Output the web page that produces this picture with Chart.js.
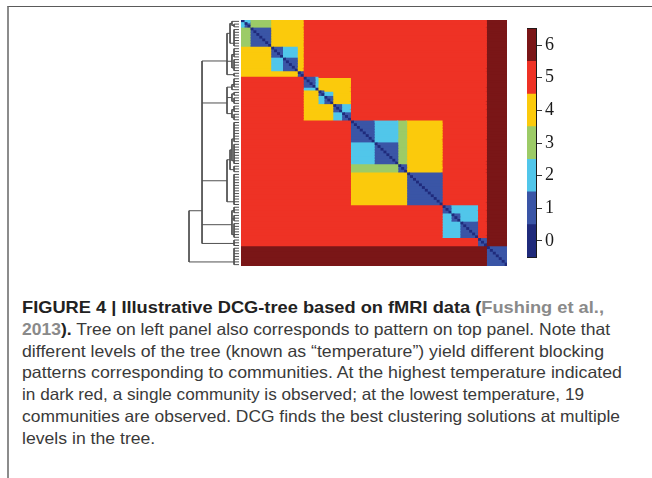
<!DOCTYPE html>
<html>
<head>
<meta charset="utf-8">
<script src="https://cdn.jsdelivr.net/npm/chart.js@4.4.0/dist/chart.umd.min.js"></script>
<style>
html,body{margin:0;padding:0;background:#fff;width:652px;height:478px;overflow:hidden;}
#frame{position:absolute;left:7px;top:6px;width:650px;height:480px;border-left:2px solid #8c8c8c;border-top:1px solid #5a5a5a;box-sizing:border-box;}
canvas{position:absolute;}
#tree{left:183px;top:20px;}
#matrix{left:241px;top:20px;}
#cbar{left:526px;top:15px;}
#caption{position:absolute;left:22px;top:297px;font-family:"Liberation Sans",Arial,sans-serif;font-size:16.5px;line-height:21.8px;color:#3a3a3a;white-space:nowrap;}
#caption .ln{display:block;transform-origin:0 0;width:max-content;}
#caption b{color:#222;}
#caption .ref{color:#8a8a8a;}
</style>
</head>
<body>
<div id="frame"></div>
<canvas id="tree" width="58" height="246"></canvas>
<canvas id="matrix" width="266" height="246"></canvas>
<canvas id="cbar" width="44" height="256"></canvas>
<div id="caption">
<span class="ln" data-w="582"><b>FIGURE 4 | Illustrative DCG-tree based on fMRI data (<span class="ref">Fushing et al.,</span></b></span>
<span class="ln" data-w="588"><b><span class="ref">2013</span>).</b> Tree on left panel also corresponds to pattern on top panel. Note that</span>
<span class="ln" data-w="582">different levels of the tree (known as “temperature”) yield different blocking</span>
<span class="ln" data-w="600">patterns corresponding to communities. At the highest temperature indicated</span>
<span class="ln" data-w="562">in dark red, a single community is observed; at the lowest temperature, 19</span>
<span class="ln" data-w="598">communities are observed. DCG finds the best clustering solutions at multiple</span>
<span class="ln">levels in the tree.</span>
</div>
<script>
// ---------------- data ----------------
const nodeCount = 90;
const valueLevels = [0, 1, 2, 3, 4, 5, 6];
const levelColors = ['#1f2a7b', '#3a55a6', '#51c6ea', '#9ccb67', '#fbca0c', '#ee3225', '#7a1617'];
// community partition at each temperature level, given as the node index where each new community starts
const breaksLevel1 = [1, 3, 10, 14, 19, 21, 25, 26, 28, 31, 34, 37, 45, 53, 56, 68, 71, 74, 80, 83];
const breaksLevel2 = [3, 10, 19, 21, 26, 31, 37, 53, 56, 68, 80, 83];
const breaksLevel3 = [10, 19, 21, 26, 31, 37, 56, 68, 80, 83];
const breaksLevel4 = [21, 37, 68, 80, 83];
const breaksLevel5 = [83];
const breaksLevel6 = [];
// dendrogram merge height for each level (level 0 = leaves)
const treeHeights = [0, 0.62, 0.88, 1.12, 1.5, 4.62, 6.25];
const colorbarTicks = [0, 1, 2, 3, 4, 5, 6];

// ---------------- derived structures ----------------
const levelBreaks = [null, breaksLevel1, breaksLevel2, breaksLevel3, breaksLevel4, breaksLevel5, breaksLevel6];
function clusterOf(breaks, i) { let c = 0; for (const b of breaks) if (i >= b) c++; return c; }
function levelValue(i, j) {
  if (i === j) return 0;
  for (let L = 1; L <= 6; L++) if (clusterOf(levelBreaks[L], i) === clusterOf(levelBreaks[L], j)) return L;
  return 6;
}
const rowLabels = [];
const rowSegments = [];
for (let i = 0; i < nodeCount; i++) {
  rowLabels.push(String(i));
  const segs = [];
  let start = 0, cur = levelValue(i, 0);
  for (let j = 1; j <= nodeCount; j++) {
    const v = j < nodeCount ? levelValue(i, j) : -1;
    if (v !== cur) { segs.push([start, j, cur]); start = j; cur = v; }
  }
  rowSegments.push(segs);
}
const maxSegs = Math.max(...rowSegments.map(s => s.length));
const matrixDatasets = [];
for (let k = 0; k < maxSegs; k++) {
  matrixDatasets.push({
    data: rowSegments.map(s => s[k] ? [s[k][0], s[k][1]] : null),
    backgroundColor: rowSegments.map(s => s[k] ? levelColors[s[k][2]] : 'rgba(0,0,0,0)'),
    borderWidth: 0,
    inflateAmount: 0.6,
    grouped: false,
    barPercentage: 1,
    categoryPercentage: 1
  });
}

// dendrogram segments from the nested partitions
const treePoints = [];
function seg(x1, y1, x2, y2) { treePoints.push({x: x1, y: y1}, {x: x2, y: y2}, {x: null, y: null}); }
let nodes = [];
for (let i = 0; i < nodeCount; i++) nodes.push({pos: i + 0.5, h: treeHeights[0], first: i});
for (let L = 1; L <= 6; L++) {
  const groups = new Map();
  for (const n of nodes) {
    const c = clusterOf(levelBreaks[L], n.first);
    if (!groups.has(c)) groups.set(c, []);
    groups.get(c).push(n);
  }
  const next = [];
  for (const [c, ch] of groups) {
    if (ch.length === 1) { next.push(ch[0]); continue; }
    const H = treeHeights[L];
    let p = ch[0].pos;
    for (const n of ch) seg(n.h, n.pos, H, n.pos);
    seg(H, ch[0].pos, H, ch[ch.length - 1].pos);
    for (let k = 1; k < ch.length; k++) p = (p + ch[k].pos) / 2;
    next.push({pos: p, h: H, first: ch[0].first});
  }
  nodes = next;
}

// ---------------- charts ----------------
Chart.defaults.animation = false;
Chart.defaults.devicePixelRatio = 1;

new Chart(document.getElementById('matrix'), {
  type: 'bar',
  data: {labels: rowLabels, datasets: matrixDatasets},
  options: {
    responsive: false,
    indexAxis: 'y',
    layout: {padding: 0},
    plugins: {legend: {display: false}, tooltip: {enabled: false}},
    scales: {
      x: {type: 'linear', min: 0, max: nodeCount, display: false},
      y: {type: 'category', display: false, offset: true}
    }
  }
});

new Chart(document.getElementById('tree'), {
  type: 'scatter',
  data: {datasets: [{data: treePoints, showLine: true, spanGaps: false, borderColor: '#505050', borderWidth: 1, pointRadius: 0}]},
  options: {
    responsive: false,
    layout: {padding: 0},
    plugins: {legend: {display: false}, tooltip: {enabled: false}},
    scales: {
      x: {type: 'linear', reverse: true, min: -0.25, max: 7.0, display: false},
      y: {type: 'linear', reverse: true, min: 0, max: nodeCount, display: false}
    }
  }
});

new Chart(document.getElementById('cbar'), {
  type: 'bar',
  data: {
    labels: ['scale'],
    datasets: valueLevels.map(v => ({
      data: [[v - 0.5, v + 0.5]], backgroundColor: levelColors[v], borderWidth: 0,
      grouped: false, barPercentage: 1, categoryPercentage: 1
    }))
  },
  options: {
    responsive: false,
    layout: {padding: {left: 1, right: 0, top: 12, bottom: 12}},
    plugins: {legend: {display: false}, tooltip: {enabled: false}},
    scales: {
      x: {type: 'category', position: 'bottom', grid: {display: false}, ticks: {display: false},
          border: {display: true, color: '#1a1a1a', width: 1}, afterFit: s => { s.height = 0; }},
      xTop: {type: 'category', axis: 'x', position: 'top', grid: {display: false}, ticks: {display: false},
          border: {display: true, color: '#1a1a1a', width: 1}, afterFit: s => { s.height = 0; }},
      yLeft: {type: 'linear', axis: 'y', position: 'left', min: -0.5, max: 6.5, grid: {display: false}, ticks: {display: false},
          border: {display: true, color: '#1a1a1a', width: 1}, afterFit: s => { s.width = 0; }},
      y: {type: 'linear', position: 'right', min: -0.5, max: 6.5,
          afterBuildTicks: s => { s.ticks = colorbarTicks.map(v => ({value: v})); },
          ticks: {color: '#1a1a1a', padding: 3, font: {family: "'Liberation Serif', 'DejaVu Serif', serif", size: 18}},
          grid: {drawOnChartArea: false, drawTicks: true, tickLength: 6, color: '#333'},
          border: {display: true, color: '#1a1a1a', width: 1},
          afterFit: s => { s.width = 34; }}
    }
  }
});

// fit caption lines to the reference line widths; lines without a measured width use the mean scale
const lines = Array.from(document.querySelectorAll('#caption .ln'));
const scales = [];
lines.forEach(el => {
  if (el.dataset.w) {
    const s = parseFloat(el.dataset.w) / el.getBoundingClientRect().width;
    scales.push(s);
    el.style.transform = 'scaleX(' + s.toFixed(4) + ')';
  }
});
const meanScale = scales.reduce((a, b) => a + b, 0) / scales.length;
lines.forEach(el => { if (!el.dataset.w) el.style.transform = 'scaleX(' + meanScale.toFixed(4) + ')'; });
</script>
</body>
</html>
